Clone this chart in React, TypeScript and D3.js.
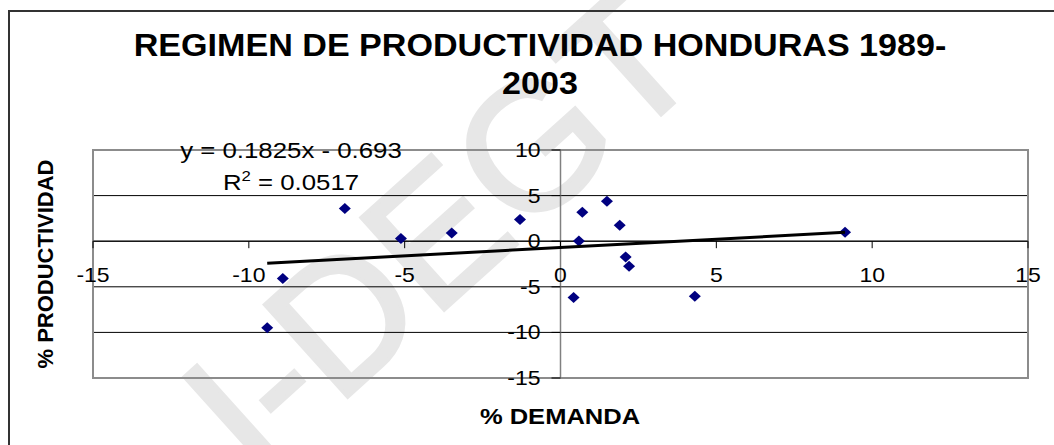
import * as d3 from "d3";

// % DEMANDA (x) and % PRODUCTIVIDAD (y), Honduras 1989-2003
const demanda = [-6.92, -5.12, -3.49, -1.3, -8.91, -9.41, 0.42, 4.31, 0.7, 1.49, 1.9, 0.59, 2.09, 2.2, 9.13];
const productividad = [3.58, 0.3, 0.91, 2.38, -4.09, -9.5, -6.18, -6.03, 3.18, 4.39, 1.75, 0.03, -1.72, -2.74, 0.99];

const xTicks = [-15, -10, -5, 0, 5, 10, 15];
const yTicks = [-15, -10, -5, 0, 5, 10];

// trendline as printed on the chart
const slope = 0.1825;
const intercept = -0.693;
const r2 = "0.0517";

const W = 1054;
const H = 445;
const font = "'Liberation Sans', Arial, sans-serif";

const Txt = ({ x, y, size, weight = "normal", anchor = "middle", sx = 1, children }: any) => (
  <text
    transform={`translate(${x},${y}) scale(${sx},1)`}
    fontSize={size}
    fontWeight={weight}
    textAnchor={anchor}
    fontFamily={font}
    fill="#000"
  >
    {children}
  </text>
);

export default function App() {
  const x = d3.scaleLinear().domain([-15, 15]).range([93, 1028]);
  const y = d3.scaleLinear().domain([-15, 10]).range([378, 150]);

  const pts = demanda.map((d, i) => [d, productividad[i]]);
  const [x0, x1] = d3.extent(demanda) as [number, number];
  const trend = d3
    .line<number>()
    .x((d) => x(d))
    .y((d) => y(slope * d + intercept))([x0, x1]);

  const diamond = "M0,-5.5L6,0L0,5.5L-6,0Z";

  return (
    <svg
      width={W}
      height={H}
      style={{ position: "absolute", left: 0, top: 0, background: "#fff" }}
    >
      {/* watermark */}
      <text
        transform="translate(255,480) rotate(-42)"
        fontSize={180}
        fontFamily={font}
        fill="#e7e7e7"
        stroke="#e7e7e7"
        strokeWidth={4}
      >
        I-DEGT
      </text>

      {/* chart frame */}
      <rect x={9} y={11} width={W + 20} height={H + 20} fill="none" stroke="#333" strokeWidth={2} />

      {/* title */}
      <Txt x={540} y={56} size={31} weight="bold" sx={1.1}>
        REGIMEN DE PRODUCTIVIDAD HONDURAS 1989-
      </Txt>
      <Txt x={540} y={94} size={31} weight="bold" sx={1.1}>
        2003
      </Txt>

      {/* gridlines */}
      {yTicks.map((t) => (
        <line key={"g" + t} x1={x(-15)} x2={x(15)} y1={y(t)} y2={y(t)} stroke="#000" strokeWidth={1} />
      ))}

      {/* plot border */}
      <rect
        x={x(-15)}
        y={y(10)}
        width={x(15) - x(-15)}
        height={y(-15) - y(10)}
        fill="none"
        stroke="#8c8c8c"
        strokeWidth={2}
      />

      {/* y axis */}
      <line x1={x(0)} x2={x(0)} y1={y(10)} y2={y(-15)} stroke="#808080" strokeWidth={1.5} />
      {yTicks.map((t) => (
        <g key={"y" + t}>
          <line x1={x(0) - 9} x2={x(0)} y1={y(t)} y2={y(t)} stroke="#000" strokeWidth={1} />
          <Txt x={x(0) - 20} y={y(t) + 7} size={20} anchor="end" sx={1.15}>
            {t}
          </Txt>
        </g>
      ))}

      {/* x axis */}
      <line x1={x(-15)} x2={x(15)} y1={y(0)} y2={y(0)} stroke="#000" strokeWidth={1} />
      {xTicks.map((t) => (
        <g key={"x" + t}>
          <line x1={x(t)} x2={x(t)} y1={y(0)} y2={y(0) + 7} stroke="#000" strokeWidth={1} />
          <Txt x={x(t)} y={y(0) + 41} size={20} sx={1.15}>
            {t}
          </Txt>
        </g>
      ))}

      {/* points */}
      {pts.map(([a, b], i) => (
        <path key={i} d={diamond} transform={`translate(${x(a)},${y(b)})`} fill="#000080" />
      ))}

      {/* trendline */}
      <path d={trend ?? ""} fill="none" stroke="#000" strokeWidth={3} />

      {/* equation */}
      <Txt x={291} y={158} size={21.5} sx={1.2}>
        y = {slope}x - {Math.abs(intercept)}
      </Txt>
      <Txt x={291} y={190} size={21.5} sx={1.2}>
        R<tspan fontSize={14} dy={-9}>2</tspan>
        <tspan dy={9}> = {r2}</tspan>
      </Txt>

      {/* axis titles */}
      <Txt x={560} y={424} size={22} weight="bold" sx={1.16}>
        % DEMANDA
      </Txt>
      <text
        transform="translate(53,264) rotate(-90)"
        fontSize={22}
        fontWeight="bold"
        textAnchor="middle"
        fontFamily={font}
      >
        % PRODUCTIVIDAD
      </text>
    </svg>
  );
}
